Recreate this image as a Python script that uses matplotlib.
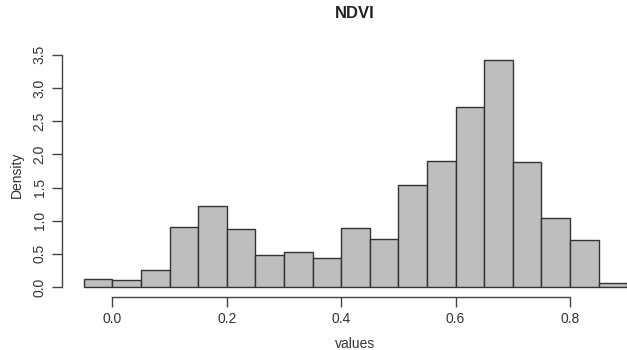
import numpy as np
from matplotlib import pyplot as plt

# histogram of NDVI values (R style, density scale)
bin_edges = [-0.05, 0.0, 0.05, 0.1, 0.15, 0.2, 0.25, 0.3, 0.35, 0.4, 0.45,
             0.5, 0.55, 0.6, 0.65, 0.7, 0.75, 0.8, 0.85, 0.9]
density = [0.125, 0.10, 0.256, 0.905, 1.22, 0.875, 0.478, 0.528, 0.437, 0.894,
           0.73, 1.54, 1.905, 2.715, 3.42, 1.88, 1.036, 0.713, 0.056]
x_ticks = [0.0, 0.2, 0.4, 0.6, 0.8]
y_ticks = [0.0, 0.5, 1.0, 1.5, 2.0, 2.5, 3.0, 3.5]

plt.rcParams['font.family'] = ['Liberation Sans', 'DejaVu Sans']
text_col = '#333333'

fig = plt.figure(figsize=(6.27, 3.5), dpi=100)
# plot region runs past the right edge, like the cropped R device
ax = fig.add_axes([62 / 627, 53 / 350, 587 / 627, 246 / 350])

widths = np.diff(bin_edges)
ax.bar(bin_edges[:-1], density, width=widths, align='edge',
       color='#BEBEBE', edgecolor='#333333', linewidth=1.0)

ax.set_xlim(-0.088, 0.938)
ax.set_ylim(-0.15, 3.557)

for side in ['top', 'right']:
    ax.spines[side].set_visible(False)
ax.spines['left'].set_bounds(0, 3.5)
ax.spines['bottom'].set_bounds(0, 0.8)
for side in ['left', 'bottom']:
    ax.spines[side].set_color('#444444')
    ax.spines[side].set_linewidth(1.0)

ax.set_xticks(x_ticks)
ax.set_xticklabels(['%.1f' % v for v in x_ticks])
ax.set_yticks(y_ticks)
ax.set_yticklabels(['%.1f' % v for v in y_ticks], rotation=90, va='center')
ax.tick_params(direction='out', length=7, width=1.0, color='#444444',
               labelsize=10, labelcolor=text_col, pad=4)

# axis titles placed like R's mtext lines
fig.text(17 / 627, 1 - 175 / 350, 'Density', ha='center', va='center',
         rotation=90, fontsize=10, color=text_col)
fig.text(355 / 627, 1 - 344 / 350, 'values', ha='center', va='center',
         fontsize=10, color=text_col)
fig.text(355 / 627, 1 - 13 / 350, 'NDVI', ha='center', va='center',
         fontsize=12, fontweight='bold', color='#222222')

fig.savefig('out.png', dpi=100)
